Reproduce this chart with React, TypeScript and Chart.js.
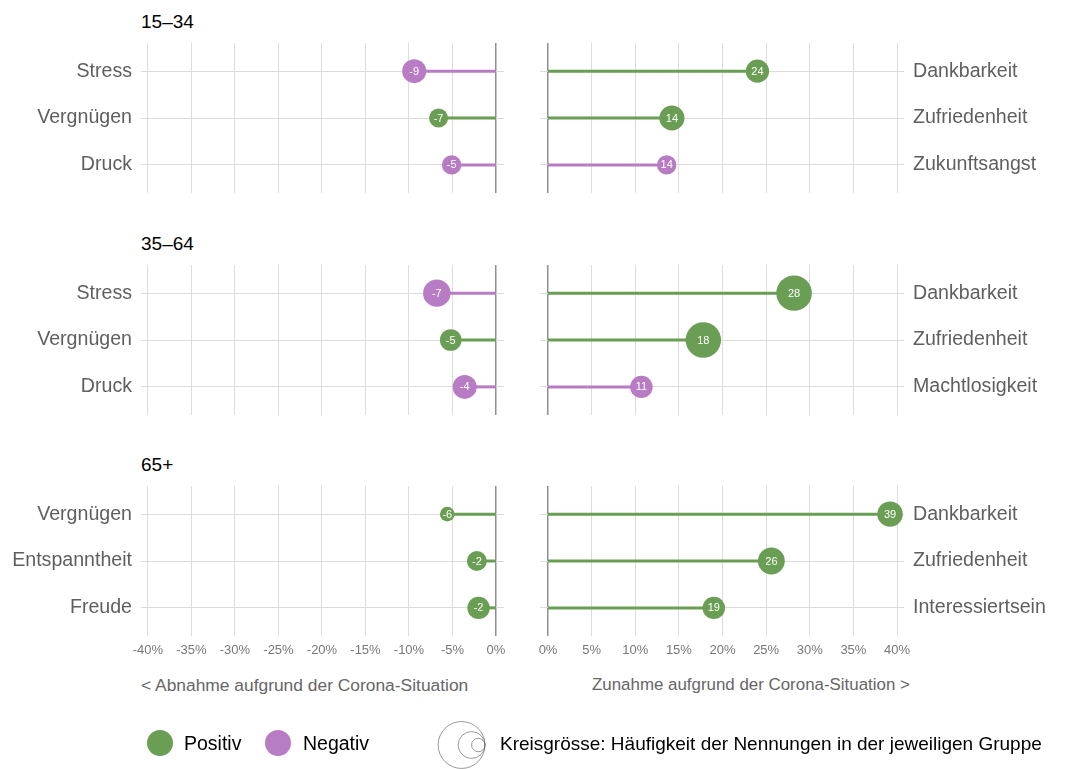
import React, { useEffect, useRef } from "react";
import { Chart, registerables } from "chart.js";
Chart.register(...registerables);

const FONT = "'Liberation Sans', Arial, Helvetica, sans-serif";
const GREEN = "#6a9e55";
const PURPLE = "#b77cc4";

const groups = ["15–34", "35–64", "65+"];

const leftLabels = [
  ["Stress", "Vergnügen", "Druck"],
  ["Stress", "Vergnügen", "Druck"],
  ["Vergnügen", "Entspanntheit", "Freude"],
];
const leftValues = [
  [-9.4, -6.6, -5.1],
  [-6.8, -5.2, -3.6],
  [-5.6, -2.2, -2.0],
];
const leftTone = [
  ["neg", "pos", "neg"],
  ["neg", "pos", "neg"],
  ["pos", "pos", "pos"],
];
const leftFreq = [
  [16, 10, 10.5],
  [21, 13, 16],
  [6, 11, 14],
];

const rightLabels = [
  ["Dankbarkeit", "Zufriedenheit", "Zukunftsangst"],
  ["Dankbarkeit", "Zufriedenheit", "Machtlosigkeit"],
  ["Dankbarkeit", "Zufriedenheit", "Interessiertsein"],
];
const rightValues = [
  [24.0, 14.2, 13.6],
  [28.2, 17.8, 10.7],
  [39.2, 25.6, 19.0],
];
const rightTone = [
  ["pos", "pos", "neg"],
  ["pos", "pos", "neg"],
  ["pos", "pos", "pos"],
];
const rightFreq = [
  [15, 17.5, 10.5],
  [35, 35, 14],
  [18, 20, 14],
];

const leftTicks = [-40, -35, -30, -25, -20, -15, -10, -5, 0];
const rightTicks = [0, 5, 10, 15, 20, 25, 30, 35, 40];
const legendFreq = [61, 20, 5];

const PANEL_TOPS = [43, 265, 486];
const PANEL_H = 150;
const radiusOf = (f: number) => 3 * Math.sqrt(f);
const toneColor = (t: string) => (t === "pos" ? GREEN : PURPLE);

const bubbleLabelPlugin = {
  id: "bubbleLabels",
  afterDatasetsDraw(chart: any) {
    const ctx = chart.ctx;
    chart.data.datasets.forEach((ds: any, di: number) => {
      if (ds.type !== "bubble") return;
      const meta = chart.getDatasetMeta(di);
      meta.data.forEach((el: any, i: number) => {
        const v = ds.data[i].x;
        ctx.save();
        ctx.fillStyle = "#ffffff";
        ctx.font = `11px ${FONT}`;
        ctx.textAlign = "center";
        ctx.textBaseline = "middle";
        ctx.fillText(String(Math.round(v)), el.x, el.y + 0.5);
        ctx.restore();
      });
    });
  },
};

const zeroPadding = (s: any) => {
  s.paddingTop = 0;
  s.paddingBottom = 0;
  s.paddingLeft = 0;
  s.paddingRight = 0;
};

function Panel({ side, row }: { side: "left" | "right"; row: number }) {
  const ref = useRef<HTMLCanvasElement>(null);
  const isLeft = side === "left";
  const bottom = row === 2;
  const canvasLeft = isLeft ? 0 : 530;
  const canvasWidth = isLeft ? 514 : 543;
  const canvasTop = PANEL_TOPS[row] - 10;
  const canvasHeight = bottom ? 10 + PANEL_H + 30 + 4 : 10 + PANEL_H + 10;

  useEffect(() => {
    const labels = isLeft ? leftLabels[row] : rightLabels[row];
    const values = isLeft ? leftValues[row] : rightValues[row];
    const tones = isLeft ? leftTone[row] : rightTone[row];
    const freqs = isLeft ? leftFreq[row] : rightFreq[row];
    const ticks = isLeft ? leftTicks : rightTicks;

    const lineSets = values.map((v, i) => ({
      type: "line" as const,
      data: [
        { x: 0, y: i },
        { x: v, y: i },
      ],
      borderColor: toneColor(tones[i]),
      borderWidth: 3,
      pointRadius: 0,
      clip: false as any,
    }));
    const bubbleSet = {
      type: "bubble" as const,
      data: values.map((v, i) => ({ x: v, y: i, r: radiusOf(freqs[i]) })),
      backgroundColor: tones.map(toneColor),
      borderWidth: 0,
      hoverRadius: 0,
      clip: false as any,
    };

    const chart = new Chart(ref.current!, {
      type: "bubble",
      data: { datasets: [bubbleSet as any, ...lineSets] },
      plugins: [bubbleLabelPlugin],
      options: {
        animation: false,
        responsive: false,
        events: [],
        layout: {
          autoPadding: false,
          padding: {
            left: isLeft ? 0 : 10,
            right: isLeft ? 10 : 0,
            top: 10,
            bottom: bottom ? 4 : 10,
          },
        },
        plugins: { legend: { display: false }, tooltip: { enabled: false } },
        scales: {
          x: {
            type: "linear",
            min: isLeft ? -40.8 : -0.92,
            max: isLeft ? 0.92 : 40.8,
            bounds: "data",
            afterBuildTicks: (s: any) => {
              s.ticks = ticks.map((v) => ({ value: v }));
            },
            afterFit: (s: any) => {
              s.height = bottom ? 30 : 0;
              zeroPadding(s);
            },
            border: { display: false },
            grid: {
              drawTicks: false,
              tickLength: 0,
              color: (c: any) => (c.tick && c.tick.value === 0 ? "#8f8f8f" : "#dcdcdc"),
              lineWidth: (c: any) => (c.tick && c.tick.value === 0 ? 1.5 : 1),
            },
            ticks: {
              display: bottom,
              autoSkip: false,
              maxRotation: 0,
              padding: 7,
              color: "#777777",
              font: { family: FONT, size: 13 },
              callback: (v: any) => `${v}%`,
            },
          },
          y: {
            type: "linear",
            position: isLeft ? "left" : "right",
            min: -0.6,
            max: 2.6,
            reverse: true,
            bounds: "data",
            afterBuildTicks: (s: any) => {
              s.ticks = labels.map((_, i) => ({ value: i }));
            },
            afterFit: (s: any) => {
              s.width = isLeft ? 141 : 169;
              zeroPadding(s);
            },
            border: { display: false },
            grid: { drawTicks: false, tickLength: 0, color: "#dcdcdc", lineWidth: 1 },
            ticks: {
              autoSkip: false,
              padding: 9,
              color: "#5f5f5f",
              font: { family: FONT, size: 19.6 },
              callback: (v: any) => labels[Number(v)] ?? "",
            },
          },
        },
      } as any,
    });
    return () => chart.destroy();
  }, []);

  return (
    <canvas
      ref={ref}
      width={canvasWidth}
      height={canvasHeight}
      style={{
        position: "absolute",
        left: canvasLeft,
        top: canvasTop,
        width: canvasWidth,
        height: canvasHeight,
      }}
    />
  );
}

export default function App() {
  const text = (s: string, left: number, cy: number, size: number, color: string, extra: any = {}) => (
    <div
      style={{
        position: "absolute",
        left,
        top: cy - size * 0.6,
        height: size * 1.2,
        lineHeight: `${size * 1.2}px`,
        fontSize: size,
        fontFamily: FONT,
        color,
        whiteSpace: "nowrap",
        ...extra,
      }}
    >
      {s}
    </div>
  );

  const tangentX = 485;
  return (
    <div
      style={{
        position: "absolute",
        left: 0,
        top: 0,
        width: 1073,
        height: 769,
        background: "#ffffff",
        overflow: "hidden",
      }}
    >
      {groups.map((g, r) => (
        <React.Fragment key={g}>
          {text(g, 141, PANEL_TOPS[r] - 21, 19, "#000000")}
          <Panel side="left" row={r} />
          <Panel side="right" row={r} />
        </React.Fragment>
      ))}
      {text("< Abnahme aufgrund der Corona-Situation", 141, 685, 17.4, "#666666")}
      {text("Zunahme aufgrund der Corona-Situation >", 592, 685, 16.9, "#666666")}

      <svg
        width={1073}
        height={769}
        style={{ position: "absolute", left: 0, top: 0, pointerEvents: "none" }}
      >
        <circle cx={160} cy={743} r={13} fill={GREEN} />
        <circle cx={278} cy={743} r={13} fill={PURPLE} />
        {legendFreq.map((f) => {
          const r = radiusOf(f);
          return (
            <circle
              key={f}
              cx={tangentX - r}
              cy={745}
              r={r}
              fill="none"
              stroke="#555555"
              strokeWidth={0.6}
            />
          );
        })}
      </svg>
      {text("Positiv", 184, 744, 19.5, "#000000")}
      {text("Negativ", 303, 744, 19.5, "#000000")}
      {text("Kreisgrösse: Häufigkeit der Nennungen in der jeweiligen Gruppe", 500, 744, 19, "#000000")}
    </div>
  );
}
